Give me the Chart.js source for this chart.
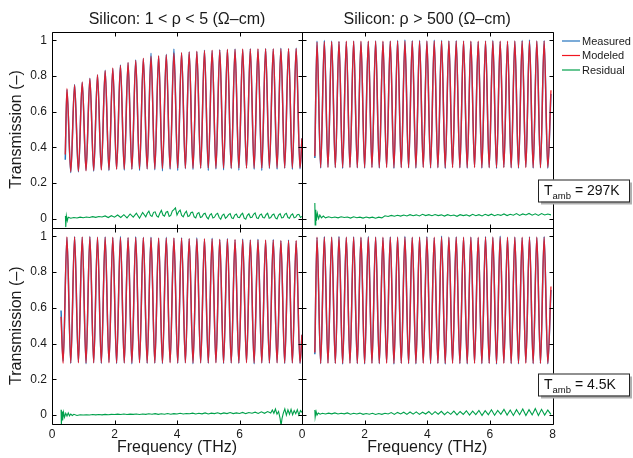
<!DOCTYPE html>
<html>
<head>
<meta charset="utf-8">
<script src="https://cdn.jsdelivr.net/npm/chart.js@4.4.0/dist/chart.umd.min.js"></script>
<style>
  html, body { margin: 0; padding: 0; background: #fff; }
  #wrap { position: relative; width: 633px; height: 458px; }
  #wrap canvas { position: absolute; left: 0; top: 0; }
</style>
</head>
<body>
<div id="wrap">
  <canvas id="tl" width="633" height="458"></canvas>
  <canvas id="tr" width="633" height="458"></canvas>
  <canvas id="bl" width="633" height="458"></canvas>
  <canvas id="br" width="633" height="458"></canvas>
</div>
<script>
const X_TICKS = [0, 2, 4, 6, 8];
const X_LABELS_LEFT = ['0', '2', '4', '6', ''];
const X_LABELS_RIGHT = ['0', '2', '4', '6', '8'];
const Y_TICKS = [0, 0.2, 0.4, 0.6, 0.8, 1];
const Y_LABELS = ['0', '0.2', '0.4', '0.6', '0.8', '1'];

// fringe extrema (THz), low resistivity sample (left column)
const lowRhoPeakF = [0.478, 0.723, 0.967, 1.212, 1.456, 1.701, 1.945, 2.190, 2.434, 2.679, 2.923, 3.168, 3.412, 3.657, 3.901, 4.146, 4.390, 4.635, 4.879, 5.124, 5.368, 5.613, 5.857, 6.102, 6.346, 6.591, 6.835, 7.080, 7.324, 7.569, 7.813];
const lowRhoTroughF = [0.600, 0.845, 1.089, 1.334, 1.578, 1.823, 2.067, 2.312, 2.556, 2.801, 3.045, 3.290, 3.534, 3.779, 4.023, 4.268, 4.512, 4.757, 5.001, 5.246, 5.490, 5.735, 5.979, 6.224, 6.468, 6.713, 6.957, 7.202, 7.446, 7.691, 7.935];
// high resistivity sample (right column)
const highRhoPeakF = [0.479, 0.713, 0.947, 1.181, 1.415, 1.649, 1.883, 2.117, 2.351, 2.585, 2.819, 3.053, 3.287, 3.521, 3.755, 3.989, 4.223, 4.457, 4.691, 4.925, 5.159, 5.393, 5.627, 5.861, 6.095, 6.329, 6.563, 6.797, 7.031, 7.265, 7.499, 7.733];
const highRhoTroughF = [0.596, 0.830, 1.064, 1.298, 1.532, 1.766, 2.000, 2.234, 2.468, 2.702, 2.936, 3.170, 3.404, 3.638, 3.872, 4.106, 4.340, 4.574, 4.808, 5.042, 5.276, 5.510, 5.744, 5.978, 6.212, 6.446, 6.680, 6.914, 7.148, 7.382, 7.616, 7.850];

// top left: 1 < rho < 5, 297K
const tlPeakMod = [0.73, 0.75, 0.767, 0.786, 0.808, 0.83, 0.845, 0.86, 0.877, 0.888, 0.90, 0.912, 0.914, 0.92, 0.93, 0.933, 0.935, 0.94, 0.943, 0.945, 0.947, 0.95, 0.95, 0.952, 0.952, 0.953, 0.953, 0.954, 0.954, 0.955, 0.955];
const tlPeakMeas = [0.725, 0.752, 0.765, 0.788, 0.806, 0.832, 0.843, 0.862, 0.875, 0.89, 0.898, 0.928, 0.912, 0.922, 0.952, 0.93, 0.936, 0.938, 0.945, 0.943, 0.948, 0.949, 0.952, 0.95, 0.953, 0.951, 0.955, 0.952, 0.956, 0.953, 0.957];
const tlTroughMod = [0.262, 0.265, 0.268, 0.27, 0.272, 0.274, 0.276, 0.277, 0.278, 0.279, 0.28, 0.28, 0.281, 0.281, 0.282, 0.282, 0.282, 0.283, 0.283, 0.283, 0.283, 0.284, 0.284, 0.284, 0.284, 0.284, 0.285, 0.285, 0.285, 0.285, 0.285];
const tlTroughMeas = [0.258, 0.262, 0.27, 0.266, 0.275, 0.27, 0.278, 0.272, 0.276, 0.27, 0.279, 0.274, 0.268, 0.276, 0.27, 0.28, 0.275, 0.282, 0.27, 0.278, 0.274, 0.28, 0.272, 0.283, 0.276, 0.27, 0.28, 0.277, 0.282, 0.276, 0.28];
const tlEdgeF = [0.425, 8.0];
const tlEdgeMod = [0.36, 0.45];
const tlEdgeMeas = [0.33, 0.45];
const tlResidual = [[0.43, 0.015], [0.44, -0.048], [0.46, 0.016], [0.49, -0.012], [0.52, 0.008], [0.6, 0.002], [0.7, 0.006], [0.8, 0.003], [0.9, 0.008], [1.0, 0.005], [1.1, 0.009], [1.2, 0.006], [1.3, 0.011], [1.4, 0.007], [1.5, 0.012], [1.6, 0.009], [1.7, 0.015], [1.8, 0.006], [1.9, 0.016], [2.0, 0.008], [2.1, 0.02], [2.2, 0.006], [2.3, 0.022], [2.4, 0.004], [2.5, 0.026], [2.6, 0.008], [2.7, 0.03], [2.8, 0.002], [2.9, 0.034], [3.0, 0.01], [3.05, 0.03], [3.1, 0.042], [3.15, 0.018], [3.2, 0.012], [3.25, 0.035], [3.3, 0.038], [3.35, 0.015], [3.4, 0.008], [3.45, 0.03], [3.5, 0.046], [3.55, 0.02], [3.6, 0.014], [3.65, 0.036], [3.7, 0.04], [3.75, 0.012], [3.8, 0.018], [3.85, 0.042], [3.9, 0.05], [3.95, 0.06], [4.0, 0.02], [4.05, 0.038], [4.1, 0.048], [4.15, 0.018], [4.2, 0.01], [4.25, 0.03], [4.3, 0.042], [4.35, 0.012], [4.4, 0.016], [4.45, 0.034], [4.5, 0.036], [4.55, 0.01], [4.6, 0.004], [4.65, 0.028], [4.7, 0.034], [4.75, 0.006], [4.8, 0.01], [4.85, 0.026], [4.9, 0.03], [4.95, 0.008], [5.0, -0.002], [5.05, 0.02], [5.1, 0.028], [5.15, 0.004], [5.2, 0.008], [5.25, 0.024], [5.3, 0.03], [5.35, 0.006], [5.4, -0.004], [5.45, 0.018], [5.5, 0.025], [5.55, 0.002], [5.6, 0.01], [5.65, 0.022], [5.7, 0.028], [5.75, 0.004], [5.8, 0.0], [5.85, 0.02], [5.9, 0.026], [5.95, 0.008], [6.0, 0.006], [6.05, 0.022], [6.1, 0.03], [6.15, 0.002], [6.2, -0.003], [6.25, 0.018], [6.3, 0.027], [6.35, 0.006], [6.4, 0.008], [6.45, 0.024], [6.5, 0.032], [6.55, 0.004], [6.6, 0.0], [6.65, 0.02], [6.7, 0.026], [6.75, 0.006], [6.8, 0.004], [6.85, 0.022], [6.9, 0.03], [6.95, 0.002], [7.0, 0.006], [7.05, 0.02], [7.1, 0.025], [7.15, 0.004], [7.2, -0.002], [7.25, 0.02], [7.3, 0.028], [7.35, 0.004], [7.4, 0.006], [7.45, 0.024], [7.5, 0.03], [7.55, 0.006], [7.6, 0.002], [7.65, 0.02], [7.7, 0.026], [7.75, 0.004], [7.8, 0.008], [7.85, 0.022], [7.9, 0.024], [7.95, 0.006], [8.0, 0.012]];

// top right: rho > 500, 297K
const trPeakMod = [0.99, 0.993, 0.994, 0.994, 0.995, 0.995, 0.995, 0.995, 0.995, 0.995, 0.995, 0.995, 0.995, 0.995, 0.995, 0.995, 0.995, 0.995, 0.995, 0.995, 0.995, 0.995, 0.995, 0.995, 0.995, 0.995, 0.995, 0.995, 0.995, 0.995, 0.995, 0.995];
const trPeakMeas = [0.995, 1.0, 0.996, 0.994, 0.993, 0.995, 0.992, 0.994, 0.996, 0.993, 0.995, 1.0, 1.002, 0.998, 1.0, 0.996, 1.001, 1.0, 0.997, 0.998, 0.995, 0.994, 0.993, 0.995, 0.999, 0.994, 0.993, 0.996, 1.0, 1.002, 0.996, 0.998];
const trTroughMod = [0.287, 0.287, 0.287, 0.287, 0.287, 0.287, 0.287, 0.287, 0.287, 0.287, 0.287, 0.287, 0.287, 0.287, 0.287, 0.287, 0.287, 0.287, 0.287, 0.287, 0.287, 0.287, 0.287, 0.287, 0.287, 0.287, 0.287, 0.287, 0.287, 0.287, 0.287, 0.287];
const trTroughMeas = [0.284, 0.29, 0.286, 0.282, 0.289, 0.285, 0.283, 0.288, 0.284, 0.29, 0.282, 0.287, 0.285, 0.283, 0.289, 0.284, 0.286, 0.282, 0.288, 0.285, 0.283, 0.289, 0.284, 0.286, 0.282, 0.288, 0.285, 0.283, 0.29, 0.284, 0.286, 0.283];
const trEdgeF = [0.41, 7.95];
const trEdgeMod = [0.35, 0.72];
const trEdgeMeas = [0.34, 0.7];
const trResidual = [[0.41, 0.088], [0.42, -0.035], [0.44, 0.05], [0.46, -0.012], [0.49, 0.03], [0.53, 0.0], [0.57, 0.02], [0.62, 0.004], [0.68, 0.014], [0.75, 0.004], [0.85, 0.01], [0.95, 0.005], [1.05, 0.009], [1.15, 0.004], [1.25, 0.01], [1.35, 0.006], [1.45, 0.009], [1.55, 0.003], [1.65, 0.01], [1.75, 0.005], [1.85, 0.008], [1.95, 0.003], [2.05, 0.009], [2.15, 0.004], [2.25, 0.008], [2.35, 0.002], [2.45, 0.008], [2.55, 0.004], [2.65, 0.016], [2.75, 0.012], [2.85, 0.018], [2.95, 0.013], [3.05, 0.019], [3.15, 0.014], [3.25, 0.02], [3.35, 0.015], [3.45, 0.022], [3.55, 0.016], [3.65, 0.021], [3.75, 0.015], [3.85, 0.024], [3.95, 0.017], [4.05, 0.022], [4.15, 0.016], [4.25, 0.023], [4.35, 0.017], [4.45, 0.021], [4.55, 0.014], [4.65, 0.022], [4.75, 0.016], [4.85, 0.02], [4.95, 0.013], [5.05, 0.022], [5.15, 0.017], [5.25, 0.021], [5.35, 0.014], [5.45, 0.024], [5.55, 0.016], [5.65, 0.022], [5.75, 0.015], [5.85, 0.024], [5.95, 0.017], [6.05, 0.025], [6.15, 0.016], [6.25, 0.023], [6.35, 0.018], [6.45, 0.026], [6.55, 0.017], [6.65, 0.024], [6.75, 0.019], [6.85, 0.028], [6.95, 0.018], [7.05, 0.026], [7.15, 0.02], [7.25, 0.029], [7.35, 0.019], [7.45, 0.027], [7.55, 0.018], [7.65, 0.028], [7.75, 0.02], [7.85, 0.026], [7.95, 0.021]];

// bottom left: 1 < rho < 5, 4.5K
const blPeakMod = [0.997, 0.997, 0.997, 0.997, 0.996, 0.996, 0.996, 0.995, 0.995, 0.994, 0.994, 0.993, 0.992, 0.992, 0.991, 0.99, 0.989, 0.988, 0.987, 0.986, 0.985, 0.984, 0.983, 0.982, 0.981, 0.98, 0.98, 0.979, 0.978, 0.978, 0.977];
const blPeakMeas = [0.995, 0.998, 0.996, 0.999, 0.995, 0.997, 0.994, 0.999, 0.993, 0.998, 0.995, 0.996, 0.99, 0.995, 0.99, 0.993, 0.987, 0.992, 0.985, 0.99, 0.983, 0.988, 0.982, 0.986, 0.98, 0.984, 0.978, 0.983, 0.976, 0.98, 0.975];
const blTroughMod = [0.292, 0.292, 0.292, 0.292, 0.292, 0.292, 0.292, 0.292, 0.292, 0.292, 0.292, 0.292, 0.292, 0.292, 0.292, 0.292, 0.292, 0.292, 0.292, 0.292, 0.292, 0.292, 0.292, 0.292, 0.292, 0.292, 0.292, 0.292, 0.292, 0.292, 0.292];
const blTroughMeas = [0.29, 0.295, 0.288, 0.293, 0.29, 0.296, 0.289, 0.292, 0.287, 0.294, 0.29, 0.291, 0.288, 0.295, 0.289, 0.293, 0.287, 0.292, 0.29, 0.294, 0.288, 0.291, 0.289, 0.295, 0.287, 0.292, 0.29, 0.293, 0.288, 0.291, 0.289];
const blEdgeF = [0.29, 0.355, 8.0];
const blEdgeMod = [0.55, 0.29, 0.45];
const blEdgeMeas = [0.585, 0.3, 0.45];
const blResidual = [[0.29, 0.03], [0.3, -0.055], [0.32, 0.02], [0.34, -0.03], [0.37, 0.015], [0.4, -0.012], [0.44, 0.01], [0.48, -0.006], [0.52, 0.012], [0.56, -0.004], [0.6, 0.006], [0.65, -0.002], [0.7, 0.004], [0.8, -0.002], [0.9, 0.002], [1.0, 0.0], [1.1, 0.002], [1.2, 0.0], [1.3, 0.003], [1.4, 0.001], [1.5, 0.003], [1.6, 0.001], [1.7, 0.004], [1.8, 0.002], [1.9, 0.004], [2.0, 0.003], [2.1, 0.005], [2.2, 0.003], [2.3, 0.006], [2.4, 0.003], [2.5, 0.005], [2.6, 0.004], [2.7, 0.006], [2.8, 0.003], [2.9, 0.006], [3.0, 0.004], [3.1, 0.007], [3.2, 0.005], [3.3, 0.008], [3.4, 0.004], [3.5, 0.007], [3.6, 0.005], [3.7, 0.009], [3.8, 0.005], [3.9, 0.008], [4.0, 0.006], [4.1, 0.01], [4.2, 0.006], [4.3, 0.009], [4.4, 0.007], [4.5, 0.011], [4.6, 0.006], [4.7, 0.01], [4.8, 0.007], [4.9, 0.012], [5.0, 0.006], [5.1, 0.011], [5.2, 0.008], [5.3, 0.013], [5.4, 0.007], [5.5, 0.012], [5.6, 0.008], [5.7, 0.014], [5.8, 0.008], [5.9, 0.012], [6.0, 0.009], [6.1, 0.015], [6.2, 0.008], [6.3, 0.014], [6.4, 0.01], [6.5, 0.016], [6.6, 0.009], [6.7, 0.018], [6.8, 0.01], [6.9, 0.02], [7.0, 0.012], [7.05, 0.028], [7.1, 0.01], [7.15, 0.034], [7.2, 0.005], [7.25, 0.02], [7.3, -0.02], [7.33, -0.06], [7.36, -0.02], [7.4, 0.01], [7.45, 0.035], [7.5, 0.0], [7.55, 0.03], [7.6, 0.005], [7.65, 0.032], [7.7, 0.002], [7.75, 0.025], [7.8, 0.008], [7.85, 0.03], [7.9, 0.0], [7.95, 0.025], [8.0, 0.015]];

// bottom right: rho > 500, 4.5K
const brPeakMod = [0.996, 0.996, 0.996, 0.996, 0.996, 0.996, 0.996, 0.996, 0.996, 0.996, 0.996, 0.996, 0.996, 0.996, 0.996, 0.996, 0.996, 0.996, 0.996, 0.996, 0.996, 0.996, 0.996, 0.996, 0.996, 0.996, 0.996, 0.996, 0.996, 0.996, 0.996, 0.996];
const brPeakMeas = [0.994, 0.998, 0.996, 1.0, 0.995, 0.997, 0.994, 0.999, 0.996, 0.993, 0.997, 0.995, 1.0, 0.994, 0.996, 0.998, 0.993, 1.001, 0.995, 0.997, 0.994, 0.996, 0.993, 0.998, 0.995, 1.001, 0.994, 0.996, 0.993, 0.997, 0.995, 0.998];
const brTroughMod = [0.29, 0.29, 0.29, 0.29, 0.29, 0.29, 0.29, 0.29, 0.29, 0.29, 0.29, 0.29, 0.29, 0.29, 0.29, 0.29, 0.29, 0.29, 0.29, 0.29, 0.29, 0.29, 0.29, 0.29, 0.29, 0.29, 0.29, 0.29, 0.29, 0.29, 0.29, 0.29];
const brTroughMeas = [0.288, 0.293, 0.29, 0.286, 0.292, 0.289, 0.287, 0.291, 0.288, 0.294, 0.286, 0.29, 0.289, 0.287, 0.293, 0.288, 0.29, 0.286, 0.292, 0.289, 0.287, 0.293, 0.288, 0.29, 0.286, 0.292, 0.289, 0.287, 0.294, 0.288, 0.29, 0.287];
const brEdgeF = [0.41, 7.95];
const brEdgeMod = [0.35, 0.72];
const brEdgeMeas = [0.34, 0.7];
const brResidual = [[0.41, 0.028], [0.42, -0.012], [0.45, 0.02], [0.48, 0.0], [0.52, 0.012], [0.58, 0.005], [0.65, 0.01], [0.75, 0.006], [0.85, 0.011], [0.95, 0.007], [1.05, 0.012], [1.15, 0.006], [1.25, 0.01], [1.35, 0.007], [1.45, 0.012], [1.55, 0.005], [1.65, 0.01], [1.75, 0.006], [1.85, 0.011], [1.95, 0.004], [2.05, 0.009], [2.15, 0.005], [2.25, 0.01], [2.35, 0.003], [2.45, 0.009], [2.55, 0.004], [2.65, 0.01], [2.75, 0.006], [2.85, 0.014], [2.95, 0.004], [3.05, 0.015], [3.15, 0.006], [3.25, 0.016], [3.35, 0.004], [3.45, 0.017], [3.55, 0.005], [3.65, 0.018], [3.75, 0.004], [3.85, 0.016], [3.95, 0.006], [4.05, 0.02], [4.15, 0.003], [4.25, 0.019], [4.35, 0.005], [4.45, 0.021], [4.55, 0.002], [4.65, 0.018], [4.75, 0.004], [4.85, 0.022], [4.95, 0.001], [5.05, 0.02], [5.15, 0.004], [5.25, 0.024], [5.35, 0.0], [5.45, 0.022], [5.55, 0.003], [5.65, 0.026], [5.75, -0.002], [5.85, 0.024], [5.95, 0.002], [6.05, 0.03], [6.15, -0.001], [6.25, 0.026], [6.35, 0.004], [6.45, 0.032], [6.55, 0.0], [6.65, 0.028], [6.75, -0.002], [6.85, 0.03], [6.95, 0.002], [7.05, 0.034], [7.15, -0.003], [7.25, 0.03], [7.35, 0.001], [7.45, 0.036], [7.55, -0.002], [7.65, 0.032], [7.75, 0.0], [7.85, 0.028], [7.95, 0.004]];

const BLUE = 'rgb(35,115,190)';
const RED = 'rgba(240,22,32,0.88)';
const GREEN = 'rgb(0,160,75)';
const FONT = "'Liberation Sans', Arial, Helvetica, sans-serif";

Chart.defaults.font.family = FONT;
Chart.defaults.color = '#1a1a1a';

// merge peaks, troughs and end points into one line
function curve(peakF, peakV, troughF, troughV, edgeF, edgeV) {
    let pts = [];
    peakF.forEach((f, i) => pts.push({ x: f, y: peakV[i] }));
    troughF.forEach((f, i) => pts.push({ x: f, y: troughV[i] }));
    edgeF.forEach((f, i) => pts.push({ x: f, y: edgeV[i] }));
    return pts.sort((a, b) => a.x - b.x);
}

function drawTamb(ctx, label, top) {
    const left = 538, w = 91, h = 22;
    ctx.fillStyle = '#b0b0b0';
    ctx.fillRect(left + 3, top + 3, w, h);
    ctx.fillStyle = '#fff';
    ctx.fillRect(left, top, w, h);
    ctx.strokeStyle = '#222';
    ctx.lineWidth = 1;
    ctx.strokeRect(left + 0.5, top + 0.5, w, h);
    ctx.fillStyle = '#111';
    ctx.textBaseline = 'alphabetic';
    ctx.textAlign = 'left';
    let x = left + 6;
    ctx.font = '14px ' + FONT;
    ctx.fillText('T', x, top + 15);
    x += ctx.measureText('T').width;
    ctx.font = '9.5px ' + FONT;
    ctx.fillText('amb', x, top + 19);
    x += ctx.measureText('amb').width;
    ctx.font = '14px ' + FONT;
    ctx.fillText(' = ' + label, x, top + 15);
}

function drawLegend(ctx) {
    const items = [['Measured', BLUE, 41], ['Modeled', 'rgb(240,22,32)', 55.5], ['Residual', GREEN, 70]];
    ctx.font = '11px ' + FONT;
    ctx.textBaseline = 'middle';
    ctx.textAlign = 'left';
    ctx.lineWidth = 1.2;
    for (const [text, color, y] of items) {
        ctx.strokeStyle = color;
        ctx.beginPath();
        ctx.moveTo(562, y);
        ctx.lineTo(580, y);
        ctx.stroke();
        ctx.fillStyle = '#1a1a1a';
        ctx.fillText(text, 582, y + 0.5);
    }
}

// box, inward ticks, and extra labels
const panelDecor = {
    id: 'panelDecor',
    afterDraw(chart, args, opts) {
        const { ctx, chartArea: a } = chart;
        const x = chart.scales.x, y = chart.scales.y;
        const l = Math.round(a.left) + 0.5, r = Math.round(a.right) + 0.5;
        const t = Math.round(a.top) + 0.5, b = Math.round(a.bottom) + 0.5;
        ctx.save();
        ctx.strokeStyle = '#000';
        ctx.lineWidth = 1;
        ctx.beginPath();
        ctx.rect(l, t, r - l, b - t);
        for (const v of X_TICKS) {
            const px = Math.round(x.getPixelForValue(v)) + 0.5;
            ctx.moveTo(px, t); ctx.lineTo(px, t + 4);
            ctx.moveTo(px, b); ctx.lineTo(px, b - 4);
        }
        for (const v of Y_TICKS) {
            const py = Math.round(y.getPixelForValue(v)) + 0.5;
            ctx.moveTo(l, py); ctx.lineTo(l + 4, py);
            ctx.moveTo(r, py); ctx.lineTo(r - 4, py);
        }
        ctx.stroke();
        if (opts.tamb) drawTamb(ctx, opts.tamb, opts.tambTop);
        if (opts.legend) drawLegend(ctx);
        ctx.restore();
    }
};

function makePanel(id, cfg) {
    const left = cfg.col === 0;
    const bottom = cfg.row === 1;
    const padding = {
        left: left ? 0 : 302,
        right: left ? 331 : 80.5,
        top: bottom ? 227.5 : 0,
        bottom: bottom ? 0 : 230.5
    };
    return new Chart(document.getElementById(id), {
        type: 'line',
        data: {
            datasets: [
                { label: 'Measured', data: cfg.measured, borderColor: BLUE, borderWidth: 1.5, order: 2 },
                { label: 'Modeled', data: cfg.modeled, borderColor: RED, borderWidth: 1.4, order: 1 },
                { label: 'Residual', data: cfg.residual.map(p => ({ x: p[0], y: p[1] })), borderColor: GREEN, borderWidth: 1.1, order: 3, cubicInterpolationMode: 'default', tension: 0 }
            ]
        },
        options: {
            responsive: false,
            animation: false,
            events: [],
            layout: { padding: padding },
            elements: {
                point: { radius: 0 },
                line: { cubicInterpolationMode: 'monotone', fill: false }
            },
            scales: {
                x: {
                    type: 'linear',
                    min: 0,
                    max: 8,
                    display: bottom,
                    grid: { display: false, drawTicks: false },
                    border: { display: false },
                    afterBuildTicks: s => { s.ticks = X_TICKS.map(v => ({ value: v })); },
                    afterFit: s => { s.height = bottom ? 34 : 0; },
                    ticks: {
                        autoSkip: false,
                        maxRotation: 0,
                        padding: 3,
                        font: { size: 12 },
                        callback: (v, i) => (left ? X_LABELS_LEFT : X_LABELS_RIGHT)[i]
                    },
                    title: { display: true, text: 'Frequency (THz)', font: { size: 16 }, padding: { top: 0, bottom: 1 } }
                },
                y: {
                    type: 'linear',
                    min: -0.05,
                    max: 1.05,
                    display: left,
                    grid: { display: false, drawTicks: false },
                    border: { display: false },
                    afterBuildTicks: s => { s.ticks = Y_TICKS.map(v => ({ value: v })); },
                    afterFit: s => { s.width = left ? 52 : 0; },
                    ticks: {
                        padding: 5,
                        font: { size: 12 },
                        callback: (v, i) => Y_LABELS[i]
                    },
                    title: { display: true, text: 'Transmission (–)', font: { size: 16 }, padding: { top: 7, bottom: 0 } }
                }
            },
            plugins: {
                legend: { display: false },
                tooltip: { enabled: false },
                title: {
                    display: !bottom,
                    text: cfg.title || '',
                    fullSize: false,
                    font: { size: 16, weight: 'normal' },
                    color: '#1a1a1a',
                    padding: { top: 10, bottom: 2.3 }
                },
                panelDecor: { tamb: cfg.tamb, tambTop: cfg.tambTop, legend: cfg.legend }
            }
        },
        plugins: [panelDecor]
    });
}

makePanel('tl', {
    row: 0, col: 0,
    title: 'Silicon: 1 < ρ < 5 (Ω–cm)',
    modeled: curve(lowRhoPeakF, tlPeakMod, lowRhoTroughF, tlTroughMod, tlEdgeF, tlEdgeMod),
    measured: curve(lowRhoPeakF, tlPeakMeas, lowRhoTroughF, tlTroughMeas, tlEdgeF, tlEdgeMeas),
    residual: tlResidual
});
makePanel('tr', {
    row: 0, col: 1,
    title: 'Silicon: ρ > 500 (Ω–cm)',
    modeled: curve(highRhoPeakF, trPeakMod, highRhoTroughF, trTroughMod, trEdgeF, trEdgeMod),
    measured: curve(highRhoPeakF, trPeakMeas, highRhoTroughF, trTroughMeas, trEdgeF, trEdgeMeas),
    residual: trResidual,
    tamb: '297K', tambTop: 179.5, legend: true
});
makePanel('bl', {
    row: 1, col: 0,
    modeled: curve(lowRhoPeakF, blPeakMod, lowRhoTroughF, blTroughMod, blEdgeF, blEdgeMod),
    measured: curve(lowRhoPeakF, blPeakMeas, lowRhoTroughF, blTroughMeas, blEdgeF, blEdgeMeas),
    residual: blResidual
});
makePanel('br', {
    row: 1, col: 1,
    modeled: curve(highRhoPeakF, brPeakMod, highRhoTroughF, brTroughMod, brEdgeF, brEdgeMod),
    measured: curve(highRhoPeakF, brPeakMeas, highRhoTroughF, brTroughMeas, brEdgeF, brEdgeMeas),
    residual: brResidual,
    tamb: '4.5K', tambTop: 373.5
});
</script>
</body>
</html>
